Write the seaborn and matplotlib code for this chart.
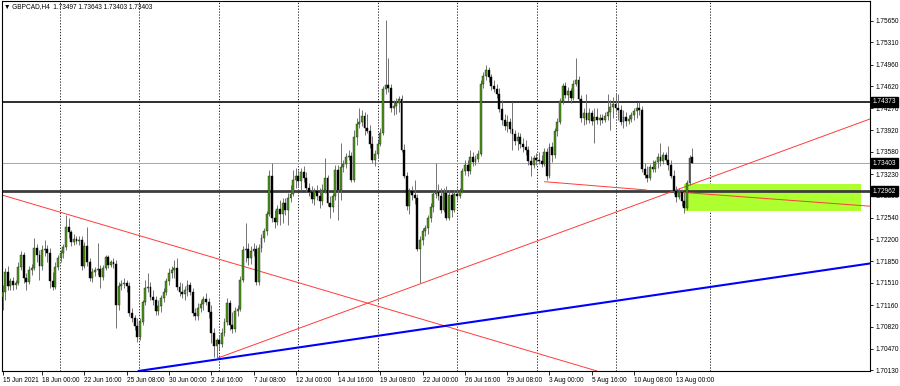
import matplotlib
matplotlib.use('Agg')
import matplotlib.pyplot as plt
import matplotlib.transforms as mtransforms
import seaborn as sns
import numpy as np
import pandas as pd

# ---------------- data (GBPCAD H4 candles) ----------------
open_ = [
    1.71287, 1.71366, 1.71682, 1.71461, 1.7154, 1.71477, 1.71509, 1.71761, 1.71951, 1.71588,
    1.71524, 1.71714, 1.71746, 1.72062, 1.71951, 1.71777, 1.7203, 1.72046, 1.71983, 1.7154,
    1.71445, 1.71761, 1.71904, 1.71983, 1.72077, 1.72394, 1.72314, 1.72156, 1.72204, 1.72172,
    1.72188, 1.71777, 1.72093, 1.7184, 1.71588, 1.71682, 1.71714, 1.7173, 1.71603, 1.71746,
    1.71919, 1.71793, 1.7184, 1.71809, 1.71161, 1.71461, 1.71493, 1.71509, 1.71461, 1.71035,
    1.70956, 1.70829, 1.70655, 1.70892, 1.71208, 1.7143, 1.71445, 1.71287, 1.7124, 1.71066,
    1.71145, 1.71272, 1.71366, 1.7154, 1.71667, 1.71714, 1.71746, 1.71445, 1.71366, 1.71335,
    1.71398, 1.71477, 1.71366, 1.71035, 1.70987, 1.71114, 1.71177, 1.71256, 1.71208, 1.7105,
    1.70719, 1.70513, 1.70608, 1.70545, 1.70719, 1.70892, 1.71193, 1.70845, 1.70782, 1.71066,
    1.71098, 1.71556, 1.7203, 1.72046, 1.71904, 1.72014, 1.72046, 1.71524, 1.72062, 1.7222,
    1.7233, 1.72599, 1.73199, 1.72536, 1.72472, 1.72678, 1.72599, 1.72773, 1.72662, 1.72852,
    1.72915, 1.73136, 1.73199, 1.7312, 1.73262, 1.73168, 1.7301, 1.72946, 1.72836, 1.72962,
    1.72883, 1.72804, 1.72978, 1.73168, 1.72773, 1.72709, 1.72883, 1.73294, 1.72978, 1.73341,
    1.73389, 1.73499, 1.73515, 1.73136, 1.73815, 1.74021, 1.74052, 1.74147, 1.73958, 1.7391,
    1.73705, 1.73452, 1.73547, 1.73705, 1.73879, 1.74574, 1.74637, 1.7459, 1.74274, 1.74305,
    1.74353, 1.74416, 1.7361, 1.73199, 1.72725, 1.72962, 1.72899, 1.72852, 1.72046, 1.72188,
    1.7233, 1.72378, 1.72536, 1.72709, 1.72915, 1.72946, 1.72883, 1.72662, 1.72931, 1.72536,
    1.72899, 1.72662, 1.72915, 1.72883, 1.72962, 1.73278, 1.73373, 1.73278, 1.73499, 1.7342,
    1.73468, 1.73547, 1.74653, 1.74779, 1.74874, 1.74763, 1.74621, 1.74574, 1.74495, 1.74258,
    1.74084, 1.73989, 1.74052, 1.73942, 1.73863, 1.73752, 1.73815, 1.73705, 1.73657, 1.7361,
    1.73436, 1.73373, 1.73484, 1.73452, 1.73436, 1.73389, 1.73578, 1.73199, 1.73657, 1.73531,
    1.7391, 1.74052, 1.74384, 1.74621, 1.74479, 1.74542, 1.74432, 1.74653, 1.74716, 1.74416,
    1.74116, 1.74195, 1.74084, 1.74195, 1.74068, 1.74131, 1.74084, 1.74116, 1.74084, 1.74147,
    1.7421, 1.74289, 1.74337, 1.74274, 1.74242, 1.74052, 1.74131, 1.74068, 1.741, 1.74163,
    1.74226, 1.74274, 1.74242, 1.7331, 1.73215, 1.73168, 1.73341, 1.7331, 1.7342, 1.73499,
    1.73436, 1.73531, 1.73452, 1.73373, 1.73199, 1.72962, 1.72867, 1.72946, 1.72804, 1.72694,
    1.73089, 1.73497,
]
high = [
    1.71477, 1.71746, 1.71777, 1.71588, 1.71603, 1.71556, 1.7184, 1.72014, 1.71998, 1.71667,
    1.71777, 1.71809, 1.7222, 1.72125, 1.7203, 1.72109, 1.72188, 1.72109, 1.72062, 1.71682,
    1.7184, 1.71951, 1.7203, 1.72125, 1.72583, 1.72536, 1.72346, 1.72283, 1.72251, 1.72251,
    1.72251, 1.72156, 1.72394, 1.71904, 1.71746, 1.71761, 1.72141, 1.71793, 1.71793, 1.71951,
    1.71951, 1.71872, 1.71904, 1.71872, 1.71524, 1.71556, 1.71588, 1.71556, 1.71524, 1.71114,
    1.71003, 1.70956, 1.70956, 1.7124, 1.71556, 1.71667, 1.71524, 1.71398, 1.71303, 1.7124,
    1.71319, 1.7143, 1.71588, 1.71746, 1.71777, 1.71872, 1.71904, 1.71524, 1.71509, 1.71461,
    1.71556, 1.71524, 1.7143, 1.71114, 1.71193, 1.7124, 1.71303, 1.71351, 1.71272, 1.71161,
    1.70798, 1.7064, 1.70687, 1.70798, 1.70956, 1.71272, 1.7124, 1.7105, 1.71129, 1.71161,
    1.71619, 1.72093, 1.72457, 1.72141, 1.72093, 1.72141, 1.72109, 1.72125, 1.72283, 1.72378,
    1.72646, 1.73294, 1.73405, 1.72662, 1.72741, 1.7282, 1.72852, 1.72852, 1.72931, 1.73057,
    1.73294, 1.73326, 1.73294, 1.73326, 1.73357, 1.73262, 1.73089, 1.73041, 1.7301, 1.73057,
    1.7301, 1.73073, 1.73484, 1.73215, 1.72883, 1.72931, 1.73373, 1.73373, 1.73721, 1.73452,
    1.73563, 1.7361, 1.73578, 1.73926, 1.74116, 1.74274, 1.74242, 1.7421, 1.74179, 1.74005,
    1.73831, 1.7361, 1.73768, 1.73958, 1.74621, 1.75664, 1.75064, 1.74653, 1.744, 1.74432,
    1.74463, 1.74479, 1.73705, 1.73262, 1.7301, 1.73041, 1.73136, 1.72915, 1.72251, 1.72378,
    1.72425, 1.72583, 1.72773, 1.72962, 1.73405, 1.73073, 1.7301, 1.7301, 1.73041, 1.72978,
    1.72946, 1.72978, 1.7301, 1.7301, 1.73326, 1.73452, 1.73452, 1.7361, 1.73578, 1.73531,
    1.7361, 1.74716, 1.74842, 1.74953, 1.74921, 1.74811, 1.74716, 1.74653, 1.7459, 1.744,
    1.74179, 1.74163, 1.74116, 1.74368, 1.73926, 1.73894, 1.73879, 1.738, 1.73768, 1.73673,
    1.73515, 1.73531, 1.73563, 1.73578, 1.73531, 1.73642, 1.73642, 1.73721, 1.73736, 1.73958,
    1.74116, 1.74432, 1.74669, 1.74684, 1.74605, 1.7459, 1.74716, 1.75064, 1.74779, 1.74479,
    1.74274, 1.74495, 1.74274, 1.74242, 1.74274, 1.74274, 1.74179, 1.74179, 1.7421, 1.74495,
    1.744, 1.74447, 1.74511, 1.74495, 1.74321, 1.74242, 1.7421, 1.74163, 1.7421, 1.74274,
    1.74368, 1.74368, 1.74305, 1.73405, 1.73357, 1.73389, 1.73452, 1.73452, 1.73563, 1.73721,
    1.73578, 1.73578, 1.73673, 1.73452, 1.73294, 1.73041, 1.7301, 1.72994, 1.72946, 1.73136,
    1.73531, 1.73643,
]
low = [
    1.71082, 1.7124, 1.71398, 1.71398, 1.71398, 1.71414, 1.71477, 1.71714, 1.71509, 1.71398,
    1.71493, 1.71635, 1.71714, 1.7184, 1.71556, 1.71714, 1.71935, 1.7184, 1.7143, 1.71398,
    1.71414, 1.71714, 1.7184, 1.71904, 1.7203, 1.7222, 1.72093, 1.72109, 1.72125, 1.72109,
    1.71714, 1.71746, 1.71777, 1.7154, 1.71524, 1.71619, 1.71635, 1.7143, 1.71556, 1.71714,
    1.71746, 1.71761, 1.71746, 1.70798, 1.71082, 1.71398, 1.7143, 1.71366, 1.70987, 1.70892,
    1.70766, 1.70576, 1.70608, 1.70845, 1.71161, 1.71366, 1.7124, 1.71161, 1.71003, 1.71003,
    1.7105, 1.71208, 1.71319, 1.71477, 1.71588, 1.71588, 1.71398, 1.71303, 1.71272, 1.7124,
    1.71303, 1.71319, 1.70987, 1.70924, 1.70924, 1.7105, 1.71082, 1.71161, 1.70956, 1.70561,
    1.70339, 1.70324, 1.7045, 1.70497, 1.70671, 1.70845, 1.70766, 1.70719, 1.70734, 1.70987,
    1.71066, 1.71524, 1.7184, 1.71793, 1.71809, 1.71935, 1.71477, 1.71477, 1.71998, 1.72156,
    1.72267, 1.72567, 1.72472, 1.72378, 1.72425, 1.72425, 1.72457, 1.72583, 1.72425, 1.72788,
    1.72883, 1.7301, 1.73041, 1.72978, 1.73104, 1.72946, 1.72883, 1.72773, 1.72741, 1.7282,
    1.72694, 1.72741, 1.72931, 1.72725, 1.72536, 1.7263, 1.7282, 1.72504, 1.7282, 1.73262,
    1.73326, 1.73452, 1.73104, 1.73104, 1.73689, 1.73958, 1.73989, 1.73847, 1.73879, 1.73642,
    1.73405, 1.73357, 1.73484, 1.73673, 1.73847, 1.74495, 1.74526, 1.7421, 1.74163, 1.74179,
    1.7421, 1.73578, 1.73168, 1.72662, 1.72599, 1.7282, 1.72757, 1.72014, 1.71509, 1.72109,
    1.72251, 1.72283, 1.72472, 1.7263, 1.72852, 1.7282, 1.72615, 1.7263, 1.72504, 1.72504,
    1.72551, 1.7263, 1.7282, 1.72852, 1.72931, 1.73215, 1.73199, 1.73231, 1.73357, 1.73373,
    1.7342, 1.73515, 1.7459, 1.74716, 1.74684, 1.74558, 1.74526, 1.74432, 1.7421, 1.74005,
    1.73926, 1.73894, 1.73879, 1.7361, 1.73689, 1.7361, 1.73642, 1.73578, 1.73531, 1.73373,
    1.73199, 1.73326, 1.73373, 1.73389, 1.73341, 1.73357, 1.73136, 1.73168, 1.7342, 1.73484,
    1.73831, 1.74021, 1.74337, 1.74432, 1.74384, 1.74353, 1.744, 1.74621, 1.74384, 1.74052,
    1.74005, 1.74021, 1.74037, 1.74005, 1.73721, 1.74021, 1.74005, 1.74037, 1.74052, 1.74084,
    1.73926, 1.74116, 1.7421, 1.74084, 1.74005, 1.73958, 1.73989, 1.74021, 1.74052, 1.74084,
    1.74116, 1.74163, 1.73262, 1.73168, 1.73104, 1.73136, 1.73262, 1.73262, 1.73326, 1.73357,
    1.73389, 1.7342, 1.73294, 1.73168, 1.72915, 1.72788, 1.72836, 1.72725, 1.72615, 1.72662,
    1.73057, 1.73403,
]
close = [
    1.71366, 1.71682, 1.71461, 1.7154, 1.71477, 1.71509, 1.71761, 1.71951, 1.71588, 1.71524,
    1.71714, 1.71746, 1.72062, 1.71951, 1.71777, 1.7203, 1.72046, 1.71983, 1.7154, 1.71445,
    1.71761, 1.71904, 1.71983, 1.72077, 1.72394, 1.72314, 1.72156, 1.72204, 1.72172, 1.72188,
    1.71777, 1.72093, 1.7184, 1.71588, 1.71682, 1.71714, 1.7173, 1.71603, 1.71746, 1.71919,
    1.71793, 1.7184, 1.71809, 1.71161, 1.71461, 1.71493, 1.71509, 1.71461, 1.71035, 1.70956,
    1.70829, 1.70655, 1.70892, 1.71208, 1.7143, 1.71445, 1.71287, 1.7124, 1.71066, 1.71145,
    1.71272, 1.71366, 1.7154, 1.71667, 1.71714, 1.71746, 1.71445, 1.71366, 1.71335, 1.71398,
    1.71477, 1.71366, 1.71035, 1.70987, 1.71114, 1.71177, 1.71256, 1.71208, 1.7105, 1.70719,
    1.70513, 1.70608, 1.70545, 1.70719, 1.70892, 1.71193, 1.70845, 1.70782, 1.71066, 1.71098,
    1.71556, 1.7203, 1.72046, 1.71904, 1.72014, 1.72046, 1.71524, 1.72062, 1.7222, 1.7233,
    1.72599, 1.73199, 1.72536, 1.72472, 1.72678, 1.72599, 1.72773, 1.72662, 1.72852, 1.72915,
    1.73136, 1.73199, 1.7312, 1.73262, 1.73168, 1.7301, 1.72946, 1.72836, 1.72962, 1.72883,
    1.72804, 1.72978, 1.73168, 1.72773, 1.72709, 1.72883, 1.73294, 1.72978, 1.73341, 1.73389,
    1.73499, 1.73515, 1.73136, 1.73815, 1.74021, 1.74052, 1.74147, 1.73958, 1.7391, 1.73705,
    1.73452, 1.73547, 1.73705, 1.73879, 1.74574, 1.74637, 1.7459, 1.74274, 1.74305, 1.74353,
    1.74416, 1.7361, 1.73199, 1.72725, 1.72962, 1.72899, 1.72852, 1.72046, 1.72188, 1.7233,
    1.72378, 1.72536, 1.72709, 1.72915, 1.72946, 1.72883, 1.72662, 1.72931, 1.72536, 1.72899,
    1.72662, 1.72915, 1.72883, 1.72962, 1.73278, 1.73373, 1.73278, 1.73499, 1.7342, 1.73468,
    1.73547, 1.74653, 1.74779, 1.74874, 1.74763, 1.74621, 1.74574, 1.74495, 1.74258, 1.74084,
    1.73989, 1.74052, 1.73942, 1.73863, 1.73752, 1.73815, 1.73705, 1.73657, 1.7361, 1.73436,
    1.73373, 1.73484, 1.73452, 1.73436, 1.73389, 1.73578, 1.73199, 1.73657, 1.73531, 1.7391,
    1.74052, 1.74384, 1.74621, 1.74479, 1.74542, 1.74432, 1.74653, 1.74716, 1.74416, 1.74116,
    1.74195, 1.74084, 1.74195, 1.74068, 1.74131, 1.74084, 1.74116, 1.74084, 1.74147, 1.7421,
    1.74289, 1.74337, 1.74274, 1.74242, 1.74052, 1.74131, 1.74068, 1.741, 1.74163, 1.74226,
    1.74274, 1.74242, 1.7331, 1.73215, 1.73168, 1.73341, 1.7331, 1.7342, 1.73499, 1.73436,
    1.73531, 1.73452, 1.73373, 1.73199, 1.72962, 1.72867, 1.72946, 1.72804, 1.72694, 1.73089,
    1.73484, 1.73403,
]

time_labels = ['15 Jun 2021', '18 Jun 00:00', '22 Jun 16:00', '25 Jun 08:00', '30 Jun 00:00',
               '2 Jul 16:00', '7 Jul 08:00', '12 Jul 00:00', '14 Jul 16:00', '19 Jul 08:00',
               '22 Jul 00:00', '26 Jul 16:00', '29 Jul 08:00', '3 Aug 00:00', '5 Aug 16:00',
               '10 Aug 08:00', '13 Aug 00:00']
time_label_bars = [0, 15, 31, 47, 63, 79, 95, 111, 127, 143, 159, 175, 191, 207, 223, 239, 255]
week_grid_bars = [21.8, 51.8, 81.8, 111.8, 142.0, 172.0, 202.1, 232.1, 267.8]

price_ticks = [1.70130, 1.70470, 1.70820, 1.71160, 1.71510, 1.71850, 1.72200, 1.72540,
               1.72890, 1.73230, 1.73580, 1.73920, 1.74270, 1.74620, 1.74960, 1.75310, 1.75650]

level_resistance = 1.74373
level_support = 1.72962
bid_price = 1.73403

# trend lines (bar index, price)
red_down_x, red_down_y = [-0.19, 225.0], [1.72899, 1.70118]
red_up_x, red_up_y = [81.57, 328.3], [1.70324, 1.74100]
blue_up_x, blue_up_y = [51.44, 328.3], [1.70118, 1.71817]
red_flat1_x, red_flat1_y = [205.1, 243.8], [1.73109, 1.72978]
red_flat2_x, red_flat2_y = [253.9, 328.3], [1.72951, 1.72722]
zone_x = [257.9, 324.9]
zone_low, zone_high = 1.72646, 1.73073

title_text = '\u25BC GBPCAD,H4  1.73497 1.73643 1.73403 1.73403'

assert len(open_) == len(high) == len(low) == len(close) == 262, (len(open_), len(high), len(low), len(close))

# ---------------- plotting ----------------
sns.set_theme(style='white')
plt.rcParams['font.family'] = ['Liberation Sans', 'DejaVu Sans']
FS = 4.7

df = pd.DataFrame({'open': open_, 'high': high, 'low': low, 'close': close})
df['bar'] = np.arange(len(df))

fig = plt.figure(figsize=(9, 3.86), dpi=100)
fig.patch.set_facecolor('white')
ax = fig.add_axes([2 / 900, 15 / 386, 868 / 900, 370 / 386])
ax.set_facecolor('white')

ax.set_xlim(-0.19, 328.3)
ax.set_ylim(1.70118, 1.75964)

# weekly dotted grid
for g in week_grid_bars:
    ax.axvline(g, color='#000000', lw=0.6, ls=(0, (1.5, 2.0)), zorder=0.5)

# zone rectangle
ax.fill_between(zone_x, zone_low, zone_high, color='#adff2f', lw=0, zorder=1)

# horizontal levels
ax.axhline(bid_price, color='#a6a6a6', lw=0.7, zorder=1.5)
ax.axhline(level_resistance, color='#1e1e1e', lw=1.3, zorder=1.6)
ax.axhline(level_support, color='#3c3c3c', lw=2.0, zorder=1.6)

# trend lines via seaborn
for xs, ys, col, lw in [(red_down_x, red_down_y, '#ff3b3b', 0.7),
                        (red_up_x, red_up_y, '#ff3b3b', 0.7),
                        (red_flat1_x, red_flat1_y, '#ff3b3b', 0.7),
                        (red_flat2_x, red_flat2_y, '#ff3b3b', 0.7),
                        (blue_up_x, blue_up_y, '#0000ff', 1.5)]:
    sns.lineplot(x=xs, y=ys, ax=ax, color=col, lw=lw, zorder=2, estimator=None)

# candles
bull = df['close'] >= df['open']
ax.vlines(df['bar'], df['low'], df['high'], color='#6a6a6a', lw=0.65, zorder=3)
body_w = 0.72
ax.bar(df.loc[bull, 'bar'], (df.loc[bull, 'close'] - df.loc[bull, 'open']).clip(lower=0.00003),
       bottom=df.loc[bull, 'open'], width=body_w, color='#4b9a12', edgecolor='#222222',
       linewidth=0.3, zorder=4)
ax.bar(df.loc[~bull, 'bar'], (df.loc[~bull, 'open'] - df.loc[~bull, 'close']).clip(lower=0.00003),
       bottom=df.loc[~bull, 'close'], width=body_w, color='#000000', edgecolor='#000000',
       linewidth=0.3, zorder=4)

# axes styling
for s in ax.spines.values():
    s.set_color('#000000')
    s.set_linewidth(0.8)

ax.yaxis.tick_right()
ax.set_yticks(price_ticks)
ax.set_yticklabels([f'{p:.5f}' for p in price_ticks])
ax.tick_params(axis='y', which='both', right=True, left=False, length=2.5, width=0.6,
               pad=1.2, labelsize=FS, colors='#000000')

ax.set_xticks(time_label_bars)
ax.set_xticklabels(time_labels, ha='left')
ax.tick_params(axis='x', which='both', bottom=True, length=3, width=0.6, pad=1.5,
               labelsize=FS, colors='#000000', direction='out')
ax.set_xlabel('')
ax.set_ylabel('')
ax.grid(False)

# black price boxes on the right scale
trans = mtransforms.blended_transform_factory(ax.transAxes, ax.transData)
for p in [level_resistance, bid_price, level_support]:
    ax.text(1.0 + 3 / 868, p, f'{p:.5f}', transform=trans, ha='left', va='center',
            fontsize=FS, color='white', zorder=10, clip_on=False,
            bbox=dict(boxstyle='square,pad=0.25', facecolor='black', edgecolor='black'))

fig.text(4 / 900, 1 - 7 / 386, title_text, fontsize=FS, color='#000000', va='center', ha='left')

fig.savefig('out.png', dpi=100, facecolor='white')
